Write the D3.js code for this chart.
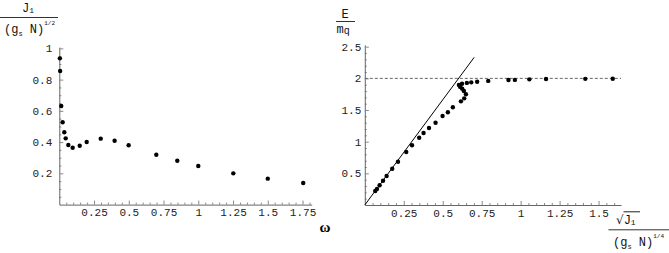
<!DOCTYPE html>
<html>
<head>
<meta charset="utf-8">
<script src="https://cdn.jsdelivr.net/npm/d3@7"></script>
<style>
  html, body { margin: 0; padding: 0; background: #fff; }
  svg { display: block; }
  .tick text { font-family: "Liberation Mono", monospace; font-size: 11px; fill: #222; }
  .lbl { font-family: "Liberation Mono", monospace; fill: #111; }
</style>
</head>
<body>
<script>
// ---- Left panel data: J1/(gs N)^(1/2) vs omega ----
const omega = [0.004, 0.006, 0.014, 0.024, 0.036, 0.046, 0.065, 0.096, 0.147, 0.197, 0.298, 0.398, 0.499, 0.698, 0.849, 1.0, 1.252, 1.5, 1.755];
const J1 = [0.936, 0.855, 0.631, 0.527, 0.463, 0.424, 0.381, 0.364, 0.377, 0.401, 0.422, 0.409, 0.380, 0.319, 0.281, 0.247, 0.200, 0.166, 0.138];

// ---- Right panel data: E/mq vs sqrt(J1)/(gs N)^(1/4) ----
const sqrtJ = [0.067, 0.078, 0.095, 0.117, 0.140, 0.176, 0.213, 0.266, 0.303, 0.349, 0.377, 0.412, 0.454, 0.499, 0.533, 0.565, 0.617, 0.638, 0.649, 0.636, 0.625, 0.612, 0.604, 0.624, 0.655, 0.683, 0.721, 0.792, 0.922, 0.963, 1.056, 1.163, 1.415, 1.591];
const Emq = [0.221, 0.253, 0.311, 0.384, 0.458, 0.573, 0.684, 0.837, 0.943, 1.063, 1.137, 1.216, 1.300, 1.405, 1.464, 1.543, 1.637, 1.684, 1.748, 1.800, 1.836, 1.865, 1.895, 1.915, 1.928, 1.937, 1.947, 1.960, 1.974, 1.976, 1.984, 1.990, 1.992, 1.993];

// reference straight line and asymptote
const lineX = [0, 0.702];
const lineY = [0, 2.332];
const asymptote = 2;

// ---- tick labels ----
const leftXTicks = [0.25, 0.5, 0.75, 1, 1.25, 1.5, 1.75];
const leftYTicks = [0.2, 0.4, 0.6, 0.8, 1];
const rightXTicks = [0.25, 0.5, 0.75, 1, 1.25, 1.5];
const rightYTicks = [0.5, 1, 1.5, 2, 2.5];

const W = 669, H = 253;
const svg = d3.select("body").append("svg").attr("width", W).attr("height", H);

function minor(domainMax, step, majors) {
  return d3.range(step, domainMax + 1e-9, step)
    .map(v => +v.toFixed(4))
    .filter(v => !majors.some(m => Math.abs(m - v) < 1e-6));
}

function drawAxes(x, y, xt, yt, xMinorStep, yMinorStep, yPad) {
  const xMax = x.domain()[1], yMax = y.domain()[1];
  const y0 = y(0), x0 = x(0);
  const gx = svg.append("g").attr("transform", `translate(0,${y0})`);
  gx.call(d3.axisBottom(x).tickValues(minor(xMax, xMinorStep, xt)).tickSize(-2).tickSizeOuter(0).tickFormat(""));
  gx.call(g => g.selectAll(".domain").remove());
  const gx2 = svg.append("g").attr("transform", `translate(0,${y0})`);
  gx2.call(d3.axisBottom(x).tickValues(xt).tickSize(-4).tickSizeOuter(0).tickPadding(4).tickFormat(d => String(d)));
  const gy = svg.append("g").attr("transform", `translate(${x0},0)`);
  gy.call(d3.axisLeft(y).tickValues(minor(yMax, yMinorStep, yt)).tickSize(-2).tickSizeOuter(0).tickFormat(""));
  gy.call(g => g.selectAll(".domain").remove());
  const gy2 = svg.append("g").attr("transform", `translate(${x0},0)`);
  gy2.call(d3.axisLeft(y).tickValues(yt).tickSize(-4).tickSizeOuter(0).tickPadding(yPad).tickFormat(d => String(d)));
  svg.selectAll(".domain").attr("stroke", "#666");
  svg.selectAll(".tick line").attr("stroke", "#888");
}

// ---- Left panel ----
const xL = d3.scaleLinear().domain([0, 1.816]).range([59.3, 311.7]);
const yL = d3.scaleLinear().domain([0, 1.008]).range([204.6, 47.1]);
drawAxes(xL, yL, leftXTicks, leftYTicks, 0.05, 0.05, 7);

svg.append("g").selectAll("circle").data(omega.map((w, i) => [w, J1[i]]))
  .join("circle").attr("cx", d => xL(d[0])).attr("cy", d => yL(d[1])).attr("r", 2.2).attr("fill", "#000");

// ---- Right panel ----
const xR = d3.scaleLinear().domain([0, 1.644]).range([364.8, 621]);
const yR = d3.scaleLinear().domain([0, 2.53]).range([205, 44.8]);
drawAxes(xR, yR, rightXTicks, rightYTicks, 0.05, 0.1, 3.5);

svg.append("line")
  .attr("x1", xR(0)).attr("x2", xR(xR.domain()[1]))
  .attr("y1", yR(asymptote)).attr("y2", yR(asymptote))
  .attr("stroke", "#666").attr("stroke-width", 1).attr("stroke-dasharray", "3,2");

svg.append("path")
  .attr("d", d3.line().x(d => xR(d[0])).y(d => yR(d[1]))(lineX.map((v, i) => [v, lineY[i]])))
  .attr("stroke", "#000").attr("stroke-width", 1).attr("fill", "none");

svg.append("g").selectAll("circle").data(sqrtJ.map((v, i) => [v, Emq[i]]))
  .join("circle").attr("cx", d => xR(d[0])).attr("cy", d => yR(d[1])).attr("r", 2.2).attr("fill", "#000");

// ---- Labels ----
// left y label: J1 / (gs N)^(1/2)
let t = svg.append("text").attr("class", "lbl").attr("x", 22).attr("y", 12).attr("font-size", 12);
t.append("tspan").text("J");
t.append("tspan").attr("font-size", 8).attr("dy", 1).text("1");
svg.append("line").attr("x1", 0).attr("x2", 58).attr("y1", 17.5).attr("y2", 17.5).attr("stroke", "#333");
t = svg.append("text").attr("class", "lbl").attr("x", 4).attr("y", 33).attr("font-size", 12);
t.append("tspan").text("(g");
t.append("tspan").attr("font-size", 7).attr("dy", 3).text("s");
t.append("tspan").attr("dy", -3).text(" N)");
t.append("tspan").attr("font-size", 6).attr("dy", -8).text("1/2");

// omega
svg.append("text").attr("x", 325).attr("y", 232).attr("text-anchor", "middle")
  .attr("font-family", "Liberation Serif, serif").attr("font-weight", "bold").attr("font-size", 15).text("ω");

// right y label: E / mq
svg.append("text").attr("class", "lbl").attr("x", 345).attr("y", 18).attr("text-anchor", "middle").attr("font-size", 12).text("E");
svg.append("line").attr("x1", 336).attr("x2", 355).attr("y1", 21.5).attr("y2", 21.5).attr("stroke", "#333");
t = svg.append("text").attr("class", "lbl").attr("x", 336.5).attr("y", 33).attr("font-size", 12);
t.append("tspan").text("m");
t.append("tspan").attr("font-size", 10).attr("dy", 1).text("q");

// right x label: sqrt(J1) / (gs N)^(1/4)
t = svg.append("text").attr("class", "lbl").attr("x", 616).attr("y", 224).attr("font-size", 13);
t.append("tspan").attr("font-family", "DejaVu Sans").attr("font-size", 12).text("√");
t.append("tspan").attr("font-size", 12).text("J");
t.append("tspan").attr("font-size", 8).attr("dy", 1).text("1");
svg.append("line").attr("x1", 623.5).attr("x2", 640).attr("y1", 211.8).attr("y2", 211.8).attr("stroke", "#222");
svg.append("line").attr("x1", 608.5).attr("x2", 669).attr("y1", 229.8).attr("y2", 229.8).attr("stroke", "#333");
t = svg.append("text").attr("class", "lbl").attr("x", 613).attr("y", 246).attr("font-size", 12);
t.append("tspan").text("(g");
t.append("tspan").attr("font-size", 7).attr("dy", 3).text("s");
t.append("tspan").attr("dy", -3).text(" N)");
t.append("tspan").attr("font-size", 6).attr("dy", -8).text("1/4");
</script>
</body>
</html>
